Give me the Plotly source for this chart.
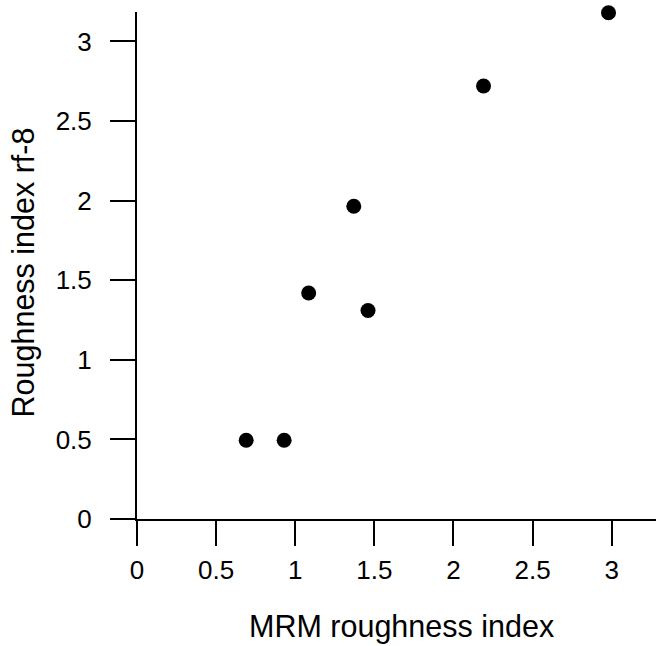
import plotly.graph_objects as go

mrm_index = [0.69, 0.93, 1.085, 1.37, 1.46, 2.19, 2.98]
rf8_index = [0.495, 0.495, 1.42, 1.965, 1.31, 2.72, 3.18]

x_ticks = [0, 0.5, 1, 1.5, 2, 2.5, 3]
x_ticklabels = ["0", "0.5", "1", "1.5", "2", "2.5", "3"]
y_ticks = [0, 0.5, 1, 1.5, 2, 2.5, 3]
y_ticklabels = ["0", "0.5", "1", "1.5", "2", "2.5", "3"]

x_title = "MRM roughness index"
y_title = "Roughness index rf-8"

FONT = "Liberation Sans, Arial, Helvetica, sans-serif"

fig = go.Figure()
fig.add_trace(go.Scatter(
    x=mrm_index, y=rf8_index, mode="markers",
    marker=dict(size=15, color="black", line=dict(width=0)),
    cliponaxis=False, showlegend=False,
))

fig.update_layout(
    width=656, height=646,
    margin=dict(l=137, r=0, t=12, b=127, autoexpand=False),
    paper_bgcolor="white", plot_bgcolor="white",
    font=dict(family=FONT, color="black"),
    xaxis=dict(
        range=[0, 3.28], showgrid=False, zeroline=False,
        showline=True, linecolor="black", linewidth=2,
        ticks="outside", ticklen=25, tickwidth=2, tickcolor="black",
        tickvals=x_ticks, ticktext=x_ticklabels,
        tickfont=dict(size=26), ticklabelstandoff=2,
    ),
    yaxis=dict(
        range=[0, 3.185], showgrid=False, zeroline=False,
        showline=True, linecolor="black", linewidth=2,
        ticks="outside", ticklen=25, tickwidth=2, tickcolor="black",
        tickvals=y_ticks, ticktext=y_ticklabels,
        tickfont=dict(size=26), ticklabelstandoff=13,
    ),
    annotations=[
        dict(text=x_title, xref="paper", yref="paper", x=0.5104, y=-0.212,
             xanchor="center", yanchor="middle", showarrow=False,
             font=dict(size=30.5)),
        dict(text=y_title, xref="paper", yref="paper", x=-0.218, y=0.486,
             xanchor="center", yanchor="middle", showarrow=False,
             textangle=-90, font=dict(size=30.5)),
    ],
)

fig.write_html("out.html", config={"displayModeBar": False},
               post_script="document.body.style.margin='0';")
